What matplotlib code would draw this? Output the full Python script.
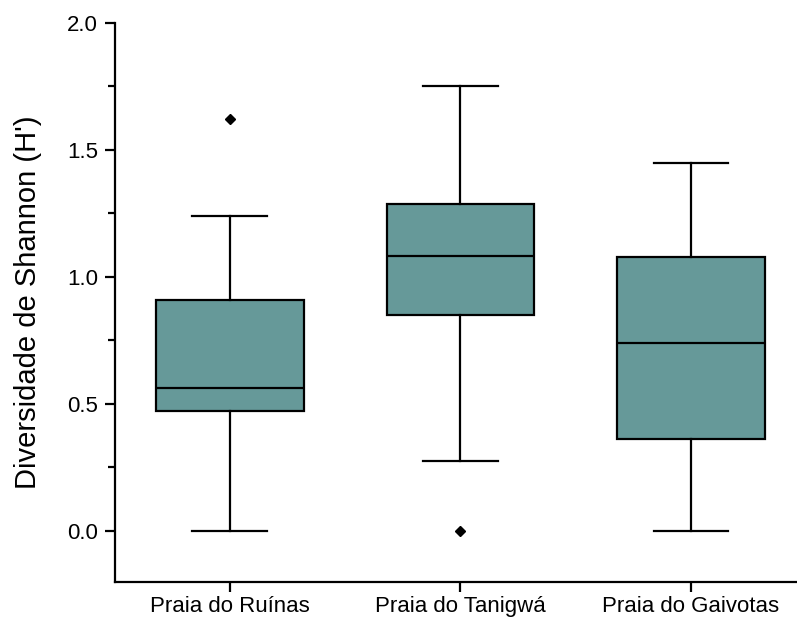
import matplotlib
matplotlib.use('Agg')
import matplotlib.pyplot as plt

# Box statistics
sites = ['Praia do Ruínas', 'Praia do Tanigwá', 'Praia do Gaivotas']
whisker_low = [0.0, 0.275, 0.0]
q1 = [0.474, 0.852, 0.361]
median = [0.561, 1.081, 0.738]
q3 = [0.911, 1.289, 1.077]
whisker_high = [1.241, 1.75, 1.448]
outliers = [[1.623], [0.0], []]

box_color = '#669999'

plt.rcParams['font.family'] = ['Liberation Sans', 'DejaVu Sans']

stats = []
for i, name in enumerate(sites):
    stats.append({
        'label': name,
        'whislo': whisker_low[i],
        'q1': q1[i],
        'med': median[i],
        'q3': q3[i],
        'whishi': whisker_high[i],
        'fliers': outliers[i],
    })

fig = plt.figure(figsize=(7.97, 6.23), dpi=100)
ax = fig.add_axes([0.1439, 0.0663, 0.8561, 0.8968])

ax.bxp(stats, positions=[1, 2, 3], widths=0.64, capwidths=0.325,
       patch_artist=True, showfliers=True,
       boxprops=dict(facecolor=box_color, edgecolor='black', linewidth=1.6),
       medianprops=dict(color='black', linewidth=1.6),
       whiskerprops=dict(color='black', linewidth=1.6),
       capprops=dict(color='black', linewidth=1.6),
       flierprops=dict(marker='D', markerfacecolor='black',
                       markeredgecolor='black', markersize=5))

ax.set_xlim(0.5, 3.46)
ax.set_ylim(-0.2, 2.0)
ax.set_yticks([0.0, 0.5, 1.0, 1.5, 2.0])
ax.set_yticks([0.25, 0.75, 1.25, 1.75], minor=True)
ax.set_yticklabels(['0.0', '0.5', '1.0', '1.5', '2.0'])

for side in ['top', 'right']:
    ax.spines[side].set_visible(False)
for side in ['left', 'bottom']:
    ax.spines[side].set_linewidth(1.6)

ax.tick_params(axis='both', which='major', direction='out', length=7,
               width=1.6, labelsize=16)
ax.tick_params(axis='x', pad=3)
ax.tick_params(axis='y', pad=5)
ax.tick_params(axis='y', which='minor', direction='out', length=5, width=1.6)

ax.set_ylabel("Diversidade de Shannon (H')", fontsize=21, labelpad=18)

fig.savefig('out.png', dpi=100)
